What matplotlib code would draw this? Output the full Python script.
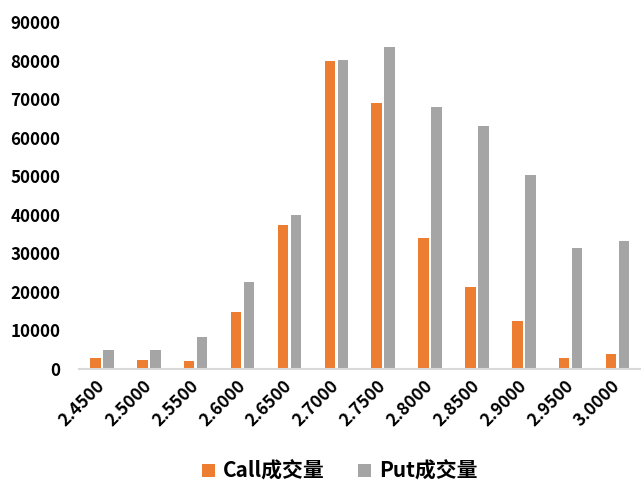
import numpy as np
import matplotlib
import matplotlib.pyplot as plt

matplotlib.use('Agg')

plt.rcParams['font.family'] = ['Noto Sans CJK SC', 'DejaVu Sans']

# strike prices and traded volume per strike
strikes = ["2.4500", "2.5000", "2.5500", "2.6000", "2.6500", "2.7000",
           "2.7500", "2.8000", "2.8500", "2.9000", "2.9500", "3.0000"]
call_volume = [2900, 2300, 2100, 14800, 37300, 79800,
               68900, 34100, 21200, 12400, 2800, 3900]
put_volume = [4900, 5000, 8300, 22500, 39900, 80100,
              83500, 68000, 62900, 50300, 31300, 33300]
series_names = ["Call成交量", "Put成交量"]
y_ticks = list(range(0, 90001, 10000))

fig = plt.figure(figsize=(6.41, 4.82), dpi=100)
ax = fig.add_axes([0.1225, 0.2344, 0.8775, 0.7200])

x = np.arange(len(strikes))
width = 0.224
offset = 0.139
ax.bar(x - offset, call_volume, width, color='#ED7D31', label=series_names[0])
ax.bar(x + offset, put_volume, width, color='#A5A5A5', label=series_names[1])

ax.set_xlim(-0.5, len(strikes) - 0.5)
ax.set_ylim(0, 90000)
ax.set_yticks(y_ticks)
ax.set_yticklabels([str(v) for v in y_ticks], fontsize=12.2, fontweight='bold')
ax.set_xticks(x)
ax.set_xticklabels(strikes, rotation=45, ha='right', va='center',
                   rotation_mode='anchor', fontsize=12.5, fontweight='bold')

ax.tick_params(axis='both', length=0)
ax.tick_params(axis='y', pad=13)
ax.tick_params(axis='x', pad=10)

for side in ['top', 'right', 'left']:
    ax.spines[side].set_visible(False)
ax.spines['bottom'].set_color('#D9D9D9')
ax.spines['bottom'].set_linewidth(1.5)

fig.legend(loc='center', bbox_to_anchor=(0.53, 0.022), ncol=2, frameon=False,
           prop={'size': 15, 'weight': 'bold'}, handlelength=0.6, handleheight=0.6,
           handletextpad=0.4, columnspacing=1.6)

fig.savefig('out.png', dpi=100)
